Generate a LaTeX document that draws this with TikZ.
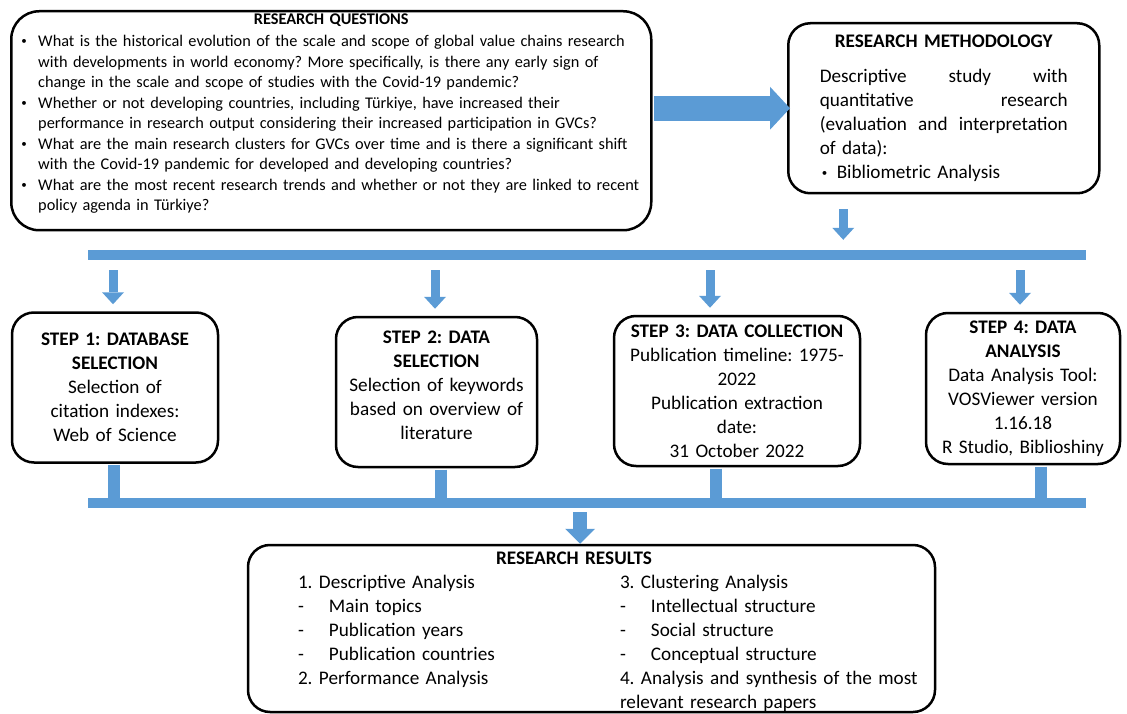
\documentclass[tikz,border=0pt]{standalone}
\usepackage{fontspec}
\setmainfont{Carlito}
\usetikzlibrary{positioning,arrows.meta}
\definecolor{flowblue}{RGB}{91,155,213}
\frenchspacing
\newcommand{\qsize}{\fontsize{16.3}{20.5}\selectfont}
\newcommand{\bsize}{\fontsize{19.2}{24}\selectfont}
\newcommand{\smallbul}{\raisebox{0.12em}{\fontsize{11}{11}\selectfont\textbullet}}
\newcommand{\qbul}{\makebox[19pt][l]{\hspace*{2pt}\smallbul}}
\newcommand{\qind}{\hspace*{19pt}}
\newcommand{\rdash}{\makebox[31pt][l]{-}}

\begin{document}
\begin{tikzpicture}[x=1pt, y=-1pt,
    box/.style={draw, line width=2.5pt, rounded corners=22pt, fill=white, inner ysep=2pt},
    stepbox/.style={box, align=center, font=\bsize, minimum height=150pt},
    bar/.style={fill=flowblue, inner sep=0pt, minimum width=998pt, minimum height=10pt},
    flowarrow/.style={draw=flowblue, line width=9pt, -{Triangle[length=12pt, width=22pt, line width=0pt]}},
    link/.style={draw=flowblue, line width=12pt, shorten <=1.25pt}]
  \useasboundingbox (0,0) rectangle (1127,714);

  % questions and methodology
  \node[box, anchor=north west, minimum width=640pt, minimum height=219pt, text width=624pt,
    inner xsep=8pt, rounded corners=28pt, align=left, font=\qsize] (rq) at (10,10) {%
    \makebox[\linewidth]{\bfseries RESEARCH QUESTIONS}\\[1.5pt]
    \qbul What is the historical evolution of the scale and scope of global value chains research\\
    \qind with developments in world economy? More specifically, is there any early sign of\\
    \qind change in the scale and scope of studies with the Covid-19 pandemic?\\
    \qbul Whether or not developing countries, including Türkiye, have increased their\\
    \qind performance in research output considering their increased participation in GVCs?\\
    \qbul What are the main research clusters for GVCs over time and is there a significant shift\\
    \qind with the Covid-19 pandemic for developed and developing countries?\\
    \qbul What are the most recent research trends and whether or not they are linked to recent\\
    \qind policy agenda in Türkiye?\rule[-17pt]{0pt}{1pt}};
  \node[box, anchor=north west, minimum width=311pt, minimum height=170pt, text width=248pt,
    inner xsep=31.5pt, align=left, font=\bsize] (rm) at (787,22) {%
    \makebox[\linewidth]{\bfseries RESEARCH METHODOLOGY}\\[11pt]
    Descriptive\hfill study\hfill with\\
    quantitative\hfill research\\
    (evaluation\hfill and\hfill interpretation\\
    of data):\\
    \makebox[17pt][l]{\hspace*{2pt}\smallbul}Bibliometric Analysis};

  % bars
  \node[bar] (topbar) at (587,255) {};
  \node[bar] (botbar) at (587,503) {};

  % steps
  \node[stepbox, minimum width=206pt, text width=192pt] (s1) at (115,387.5)
    {\textbf{STEP 1: DATABASE}\\\textbf{SELECTION}\\Selection of\\citation indexes:\\Web of Science};
  \node[stepbox, minimum width=201pt, text width=190pt] (s2) at (436.5,392)
    {\textbf{STEP 2: DATA}\\\textbf{SELECTION}\\Selection of keywords\\based on overview of\\literature\rule[-14pt]{0pt}{1pt}};
  \node[stepbox, minimum width=246pt, text width=234pt] (s3) at (737,391)
    {\textbf{STEP 3: DATA COLLECTION}\\Publication timeline: 1975-\\2022\\Publication extraction\\date:\\31 October 2022};
  \node[stepbox, minimum width=194pt, text width=184pt, minimum height=151pt] (s4) at (1023,388.5)
    {\textbf{STEP 4: DATA}\\\textbf{ANALYSIS}\\Data Analysis Tool:\\VOSViewer version\\1.16.18\\R Studio, Biblioshiny};

  % results
  \node[box, minimum width=687pt, minimum height=167pt, text width=668pt, inner xsep=9.5pt,
    inner ysep=0pt, align=left, font=\bsize] (rr) at (591.5,628.5) {%
    \makebox[\linewidth]{\rule{0pt}{19pt}\bfseries RESEARCH RESULTS\hspace*{35pt}}\\
    \hspace*{40.5pt}\begin{minipage}[t]{322pt}
      1. Descriptive Analysis\\
      \rdash Main topics\\
      \rdash Publication years\\
      \rdash Publication countries\\
      2. Performance Analysis
    \end{minipage}%
    \begin{minipage}[t]{305.5pt}
      3. Clustering Analysis\\
      \rdash Intellectual structure\\
      \rdash Social structure\\
      \rdash Conceptual structure\\
      4. Analysis and synthesis of the most\\
      relevant research papers
    \end{minipage}};

  % arrows
  \draw[draw=flowblue, line width=25pt, -{Triangle[length=20pt, width=43pt, line width=0pt]},
    shorten <=1.25pt, shorten >=-3pt] (rq.east |- rm.west) -- (rm.west);
  \draw[flowarrow, shorten <=15pt, shorten >=10pt]
    ([xshift=-100.5pt]rm.south) -- ([xshift=-100.5pt]rm.south |- topbar.north);
  \draw[flowarrow, shorten <=10pt, shorten >=7pt] ([xshift=-2pt]s1.north |- topbar.south) -- ([xshift=-2pt]s1.north);
  \draw[flowarrow, shorten <=10pt, shorten >=7pt] ([xshift=-1.5pt]s2.north |- topbar.south) -- ([xshift=-1.5pt]s2.north);
  \draw[flowarrow, shorten <=10pt, shorten >=7pt] ([xshift=-27pt]s3.north |- topbar.south) -- ([xshift=-27pt]s3.north);
  \draw[flowarrow, shorten <=10pt, shorten >=7pt] ([xshift=-3pt]s4.north |- topbar.south) -- ([xshift=-3pt]s4.north);
  \draw[link] ([xshift=-1.5pt]s1.south) -- ([xshift=-1.5pt]s1.south |- botbar.north);
  \draw[link] ([xshift=4.5pt]s2.south) -- ([xshift=4.5pt]s2.south |- botbar.north);
  \draw[link] ([xshift=-21pt]s3.south) -- ([xshift=-21pt]s3.south |- botbar.north);
  \draw[link] ([xshift=18pt]s4.south) -- ([xshift=18pt]s4.south |- botbar.north);
  \draw[draw=flowblue, line width=14pt, -{Triangle[length=15pt, width=30pt, line width=0pt]},
    shorten <=4pt, shorten >=0pt] ([xshift=-11.5pt]rr.north |- botbar.south) -- ([xshift=-11.5pt]rr.north);
\end{tikzpicture}
\end{document}
